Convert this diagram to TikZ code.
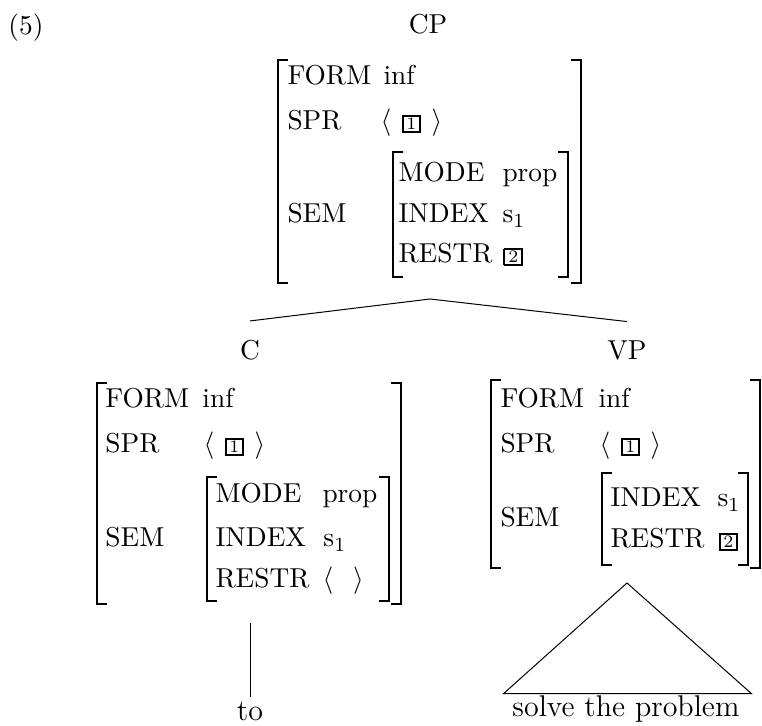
\documentclass[tikz,border=0pt]{standalone}
\usepackage{amsmath}
\usepackage{tikz}
\newcommand{\boxnum}[1]{{\setlength{\fboxsep}{0.6pt}\setlength{\fboxrule}{0.8pt}\fbox{\makebox[5pt]{\fontsize{7}{8}\selectfont #1}}}}

\begin{document}
\begin{tikzpicture}[x=0.4pt,y=-0.4pt,every node/.style={font=\fontsize{10.95}{13.6}\selectfont,inner sep=0pt},
  attr/.style={anchor=base west},
  cat/.style={anchor=base},
  leaf/.style={anchor=base,font=\fontsize{12}{14.5}\selectfont},
  brk/.style={line width=0.7pt}]
\useasboundingbox (0,0) rectangle (762,726);
\node[attr] (ex) at (8,35) {(5)};
\node[cat] (cp) at (428,34) {CP};
\draw[brk] (288,60) -- (278,60) -- (278,283) -- (288,283);
\draw[brk] (571,60) -- (581,60) -- (581,283) -- (571,283);
\node[attr] (cpform) at (287,85) {FORM};
\node[attr] (cpformv) at (383,85) {inf};
\node[attr] (cpspr) at (287,130) {SPR};
\node[attr] (cpsprv) at (380,130) {$\langle$\hspace{4.2pt}\boxnum{1}\hspace{4.2pt}$\rangle$};
\node[attr] (cpsem) at (287,223) {SEM};
\draw[brk] (403,152) -- (393,152) -- (393,277) -- (403,277);
\draw[brk] (558,152) -- (568,152) -- (568,277) -- (558,277);
\node[attr] (cpmode) at (398,182) {MODE};
\node[attr] (cpmodev) at (502,182) {prop};
\node[attr] (cpindex) at (398,223) {INDEX};
\node[attr] (cpindexv) at (502,223) {$\mathrm{s}_1$};
\node[attr] (cprestr) at (398,263) {RESTR};
\node[attr] (cprestrv) at (503,263) {\boxnum{2}};
\node[cat] (c) at (250,360) {C};
\draw[brk] (107,383) -- (97,383) -- (97,604) -- (107,604);
\draw[brk] (391,383) -- (401,383) -- (401,604) -- (391,604);
\node[attr] (cform) at (105,408) {FORM};
\node[attr] (cformv) at (202,408) {inf};
\node[attr] (cspr) at (105,453) {SPR};
\node[attr] (csprv) at (203,453) {$\langle$\hspace{4.2pt}\boxnum{1}\hspace{4.2pt}$\rangle$};
\node[attr] (csem) at (105,547) {SEM};
\draw[brk] (217,477) -- (207,477) -- (207,601) -- (217,601);
\draw[brk] (379,477) -- (389,477) -- (389,601) -- (379,601);
\node[attr] (cmode) at (215,503) {MODE};
\node[attr] (cmodev) at (322,503) {prop};
\node[attr] (cindex) at (215,547) {INDEX};
\node[attr] (cindexv) at (323,547) {$\mathrm{s}_1$};
\node[attr] (crestr) at (215,588) {RESTR};
\node[attr] (crestrv) at (322,588) {$\langle$\hspace{8pt}$\rangle$};
\node[cat] (vp) at (627,360) {VP};
\draw[brk] (501,380) -- (491,380) -- (491,568) -- (501,568);
\draw[brk] (750,380) -- (760,380) -- (760,568) -- (750,568);
\node[attr] (vpform) at (500,408) {FORM};
\node[attr] (vpformv) at (598,408) {inf};
\node[attr] (vpspr) at (500,453) {SPR};
\node[attr] (vpsprv) at (599,453) {$\langle$\hspace{4.2pt}\boxnum{1}\hspace{4.2pt}$\rangle$};
\node[attr] (vpsem) at (500,527) {SEM};
\draw[brk] (612,473) -- (602,473) -- (602,565) -- (612,565);
\draw[brk] (738,473) -- (748,473) -- (748,565) -- (738,565);
\node[attr] (vpindex) at (610,507) {INDEX};
\node[attr] (vpindexv) at (717,507) {$\mathrm{s}_1$};
\node[attr] (vprestr) at (610,548) {RESTR};
\node[attr] (vprestrv) at (718,548) {\boxnum{2}};
\coordinate (cpfoot) at (430,299);
\draw ([yshift=7.7pt]c.north) -- (cpfoot) -- ([yshift=7.7pt]vp.north);
\coordinate (cfoot) at (250,623);
\node[leaf] (to) at (250,721) {to};
\draw (cfoot) -- ([yshift=2.2pt]to.north);
\coordinate (vpfoot) at (627,583);
\node[leaf] (solve) at (626,717) {solve the problem};
\draw (vpfoot) -- ([xshift=-3.4pt,yshift=0.8pt]solve.north west) -- ([xshift=4.6pt,yshift=0.8pt]solve.north east) -- cycle;
\end{tikzpicture}
\end{document}
